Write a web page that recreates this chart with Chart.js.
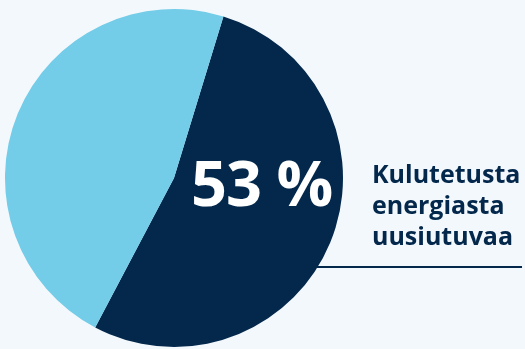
<!DOCTYPE html>
<html><head><meta charset="utf-8">
<script src="https://cdn.jsdelivr.net/npm/chart.js@4"></script>
<style>
html,body{margin:0;padding:0;background:#f3f8fc;}
#wrap{position:relative;width:525px;height:349px;overflow:hidden;}
#c{position:absolute;left:0;top:0;}
.big{position:absolute;left:191px;top:147px;font-family:"Open Sans";font-weight:700;font-size:63px;color:#fff;line-height:70px;white-space:nowrap;letter-spacing:-1px;}
.lab{position:absolute;left:372px;top:158px;font-family:"Open Sans";font-weight:700;font-size:25px;line-height:31px;color:#03284c;white-space:nowrap;}
</style></head><body>
<div id="wrap"><canvas id="c" width="525" height="349"></canvas>
<div class="big">53 %</div>
<div class="lab">Kulutetusta<br>energiasta<br>uusiutuvaa</div>
</div>
<script>
const categories = ['Uusiutuva', 'Muu'];
const values = [53, 47];
const colors = ['#03284c', '#73cce8'];
const leaderLine = {
  id: 'leader',
  afterDraw(chart) {
    const arc = chart.getDatasetMeta(0).data[0];
    const ctx = chart.ctx;
    const dy = 89;
    const y = arc.y + dy;
    const x = arc.x + Math.sqrt(arc.outerRadius * arc.outerRadius - dy * dy);
    ctx.save();
    ctx.strokeStyle = '#03284c';
    ctx.lineWidth = 2;
    ctx.beginPath();
    ctx.moveTo(x - 2, y);
    ctx.lineTo(522, y);
    ctx.stroke();
    ctx.restore();
  }
};
new Chart(document.getElementById('c'), {
  type: 'pie',
  data: { labels: categories, datasets: [{ data: values, backgroundColor: colors, borderWidth: 0 }] },
  options: {
    responsive: false, animation: false, rotation: 17,
    layout: { padding: { left: 5, top: 9, bottom: 2, right: 182 } },
    plugins: { legend: { display: false }, tooltip: { enabled: false } }
  },
  plugins: [leaderLine]
});
</script>
</body></html>
